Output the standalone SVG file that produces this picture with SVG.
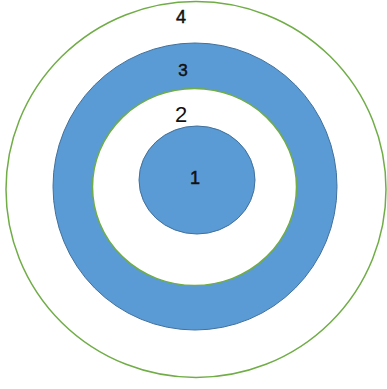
<svg xmlns="http://www.w3.org/2000/svg" width="387" height="389" viewBox="0 0 387 389">
<style>
.green{fill:#ffffff;stroke:#70AD47;stroke-width:1.5}
.blue{fill:#5B9BD5;stroke:#41719C;stroke-width:1}
.lbl{font-family:"Liberation Sans",Arial,sans-serif;fill:#111111;text-anchor:middle}
.heavy{stroke:#111111;stroke-width:0.5}
</style>
<rect width="387" height="389" fill="#ffffff"/>
<g id="ring4">
<ellipse class="green" cx="196" cy="189.5" rx="190" ry="188"/>
<text class="lbl heavy" x="181" y="23" font-size="18">4</text>
</g>
<g id="ring3">
<ellipse class="blue" cx="195" cy="186.5" rx="142" ry="143.5"/>
<text class="lbl heavy" x="183" y="76" font-size="17">3</text>
</g>
<g id="ring2">
<ellipse class="green" cx="194.5" cy="187" rx="102" ry="98.5"/>
<text class="lbl" x="181" y="122" font-size="22">2</text>
</g>
<g id="ring1">
<ellipse class="blue" cx="197" cy="180" rx="58" ry="54"/>
<text class="lbl heavy" x="195" y="184" font-size="18">1</text>
</g>
</svg>
